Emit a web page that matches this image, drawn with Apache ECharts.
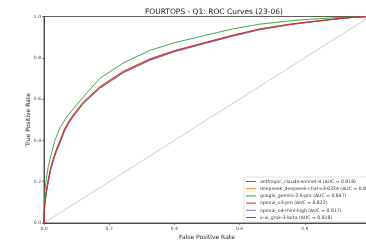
<!DOCTYPE html>
<html>
<head>
<meta charset="utf-8">
<script src="https://cdn.jsdelivr.net/npm/echarts@6/dist/echarts.min.js"></script>
<style>
  html, body { margin: 0; padding: 0; background: #fff; }
  #chart { width: 366px; height: 242px; }
</style>
</head>
<body>
<div id="chart"></div>
<script>
// false positive rate grid shared by all curves
var fpr = [0, 0.0005, 0.002, 0.006, 0.013, 0.021, 0.034, 0.049, 0.064, 0.075, 0.09, 0.12, 0.171, 0.243, 0.325, 0.4, 0.493, 0.58, 0.662, 0.75, 0.8, 0.88, 0.95, 1.0];

var names = [
    'anthropic_claude-sonnet-4 (AUC = 0.818)',
    'deepseek_deepseek-chat-v3-0324 (AUC = 0.821)',
    'google_gemini-2.5-pro (AUC = 0.847)',
    'openai_o3-pro (AUC = 0.822)',
    'openai_o4-mini-high (AUC = 0.817)',
    'x-ai_grok-3-beta (AUC = 0.818)'
];
var colors = ['#1f77b4', '#ff7f0e', '#2ca02c', '#d62728', '#9467bd', '#8c564b'];

// true positive rate of each model
var tprClaude   = [0, 0.04, 0.08, 0.135, 0.2, 0.262, 0.33, 0.39, 0.45, 0.482, 0.517, 0.578, 0.653, 0.728, 0.789, 0.83, 0.87, 0.906, 0.937, 0.96, 0.97, 0.985, 0.996, 1];
var tprDeepseek = [0, 0.05, 0.088, 0.142, 0.206, 0.27, 0.337, 0.397, 0.456, 0.487, 0.522, 0.582, 0.657, 0.732, 0.793, 0.833, 0.873, 0.909, 0.939, 0.961, 0.971, 0.986, 0.997, 1];
var tprGemini   = [0, 0.08, 0.146, 0.2, 0.273, 0.325, 0.403, 0.46, 0.5, 0.525, 0.553, 0.61, 0.7, 0.775, 0.836, 0.873, 0.908, 0.94, 0.963, 0.978, 0.985, 0.993, 0.998, 1];
var tprO3       = [0, 0.05, 0.09, 0.146, 0.21, 0.273, 0.34, 0.4, 0.46, 0.49, 0.525, 0.585, 0.66, 0.735, 0.795, 0.835, 0.874, 0.91, 0.94, 0.962, 0.972, 0.986, 0.997, 1];
var tprO4       = [0, 0.04, 0.078, 0.132, 0.198, 0.26, 0.328, 0.388, 0.448, 0.48, 0.515, 0.576, 0.651, 0.727, 0.788, 0.829, 0.869, 0.905, 0.936, 0.959, 0.97, 0.985, 0.996, 1];
var tprGrok     = [0, 0.045, 0.082, 0.137, 0.202, 0.264, 0.332, 0.392, 0.451, 0.483, 0.518, 0.579, 0.654, 0.729, 0.79, 0.831, 0.87, 0.906, 0.937, 0.96, 0.97, 0.985, 0.996, 1];
var allTpr = [tprClaude, tprDeepseek, tprGemini, tprO3, tprO4, tprGrok];

var xTicks = [0, 0.2, 0.4, 0.6, 0.8, 1.0];
var yTicks = [0, 0.2, 0.4, 0.6, 0.8, 1.0];

var font = 'DejaVu Sans';
var myChart = echarts.init(document.getElementById('chart'));

var series = [];
// diagonal reference line
series.push({
    name: 'chance',
    type: 'line',
    data: [[0, 0], [1, 1]],
    symbol: 'none',
    silent: true,
    lineStyle: { color: '#aaaaaa', width: 0.6 },
    z: 1
});
for (var i = 0; i < names.length; i++) {
    var pts = [];
    for (var j = 0; j < fpr.length; j++) {
        pts.push([fpr[j], allTpr[i][j]]);
    }
    series.push({
        name: names[i],
        type: 'line',
        data: pts,
        symbol: 'none',
        smooth: false,
        color: colors[i],
        lineStyle: { width: 1, opacity: i === 3 || i === 2 ? 0.9 : 0.7 },
        z: i === 3 ? 10 : 3
    });
}

var option = {
    animation: false,
    title: {
        text: 'FOURTOPS - Q1: ROC Curves (23-06)',
        left: 209,
        textAlign: 'center',
        top: 3,
        textStyle: { fontFamily: font, fontSize: 7.5, fontWeight: 'normal', color: '#222' }
    },
    grid: {
        left: 44, right: -4, top: 16.5, bottom: 19,
        outerBoundsMode: 'none',
        containLabel: false,
        show: true, borderColor: '#333', borderWidth: 0.8
    },
    legend: {
        data: names,
        orient: 'vertical',
        left: 244,
        top: 177,
        padding: [2, 3, 2, 2],
        itemWidth: 10,
        itemHeight: 1,
        itemGap: 2.2,
        icon: 'rect',
        backgroundColor: '#fff',
        borderColor: '#ccc',
        borderWidth: 0.6,
        borderRadius: 2,
        textStyle: { fontFamily: font, fontSize: 4.6, lineHeight: 5, color: '#333', padding: [0, 0, 0, -1] }
    },
    xAxis: {
        type: 'value',
        min: 0, max: 1, interval: 0.2,
        name: 'False Positive Rate',
        nameLocation: 'middle',
        nameGap: 11,
        nameMoveOverlap: false,
        nameTextStyle: { fontFamily: font, fontSize: 6, color: '#222' },
        axisLine: { lineStyle: { color: '#333', width: 0.8 } },
        axisTick: { show: true, length: 2, lineStyle: { color: '#333', width: 0.6 } },
        axisLabel: {
            fontFamily: font, fontSize: 4.5, color: '#444', margin: 3,
            formatter: function (v) { return xTicks.indexOf(v) >= 0 ? v.toFixed(1) : ''; }
        },
        splitLine: { show: false }
    },
    yAxis: {
        type: 'value',
        min: 0, max: 1, interval: 0.2,
        name: 'True Positive Rate',
        nameLocation: 'middle',
        nameGap: 12.5,
        nameMoveOverlap: false,
        nameTextStyle: { fontFamily: font, fontSize: 6, color: '#222' },
        axisLine: { show: true, lineStyle: { color: '#333', width: 0.8 } },
        axisTick: { show: true, length: 2, lineStyle: { color: '#333', width: 0.6 } },
        axisLabel: {
            fontFamily: font, fontSize: 4.5, color: '#444', margin: 3,
            formatter: function (v) { return yTicks.indexOf(v) >= 0 ? v.toFixed(1) : ''; }
        },
        splitLine: { show: false }
    },
    series: series
};

myChart.setOption(option);
</script>
</body>
</html>
